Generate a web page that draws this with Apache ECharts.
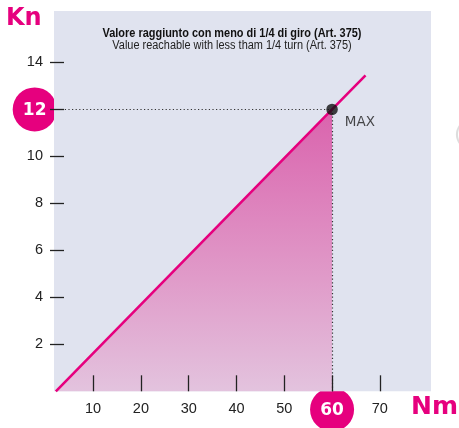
<!DOCTYPE html>
<html>
<head>
<meta charset="utf-8">
<script src="https://cdn.jsdelivr.net/npm/echarts@6/dist/echarts.min.js"></script>
<style>
  html, body { margin: 0; padding: 0; background: #ffffff; }
  #chart { width: 459px; height: 428px; }
</style>
</head>
<body>
<div id="chart"></div>
<script>
// Torque (Nm) vs clamping force (Kn) reachable with less than 1/4 turn
const xTicks = [10, 20, 30, 40, 50, 60, 70];
const yTicks = [2, 4, 6, 8, 10, 12, 14];
const lineX = [2.2, 60, 67];
const lineY = [0, 12, 13.45];
const fillX = [2.2, 60];
const fillY = [0, 12];
const maxPoint = [60, 12];
const titleMain = 'Valore raggiunto con meno di 1/4 di giro (Art. 375)';
const titleSub = 'Value reachable with less tham 1/4 turn (Art. 375)';

// axis extents: the x axis sits just below zero, the y axis line
// sits a little right of zero, just before the shaded panel starts
const X_MIN = 0.98, X_MAX = 80.7, Y_MIN = -0.2, Y_MAX = 16.19, PLOT_X_MIN = 1.82;
const MAGENTA = '#e6007e';
const SANS = '"Liberation Sans", Arial, sans-serif';
const ROUND = '"DejaVu Sans", sans-serif';

const zip = (a, b) => a.map((v, i) => [v, b[i]]);

const chart = echarts.init(document.getElementById('chart'), null, { renderer: 'canvas' });

chart.setOption({
  animation: false,
  grid: { left: 50, right: 28, top: 11, bottom: 32 },
  xAxis: {
    type: 'value', min: X_MIN, max: X_MAX, z: 6,
    axisLine: { show: false },
    splitLine: { show: false },
    axisTick: { show: true, inside: true, length: 16, customValues: xTicks,
                lineStyle: { color: '#222', width: 1.3 } },
    axisLabel: { customValues: xTicks.filter(v => v !== maxPoint[0]), margin: 5,
                 fontSize: 14.5, color: '#222', fontFamily: SANS }
  },
  yAxis: {
    type: 'value', min: Y_MIN, max: Y_MAX, z: 6,
    axisLine: { show: false },
    splitLine: { show: false },
    axisTick: { show: true, inside: true, length: 14, customValues: yTicks,
                lineStyle: { color: '#222', width: 1.3 } },
    axisLabel: { customValues: yTicks.filter(v => v !== maxPoint[1]), margin: 7,
                 fontSize: 14.5, color: '#222', fontFamily: SANS }
  },
  series: [
    {
      // plot background panel
      type: 'line', data: [], z: 0, silent: true,
      markArea: {
        silent: true,
        itemStyle: { color: '#e0e3ef' },
        data: [[{ coord: [PLOT_X_MIN, 0] }, { coord: [X_MAX, Y_MAX] }]]
      }
    },
    {
      // shaded region under the curve up to the max point
      type: 'line', data: zip(fillX, fillY), z: 1, silent: true,
      symbol: 'none', lineStyle: { width: 0 },
      areaStyle: {
        opacity: 1, origin: 0,
        color: new echarts.graphic.LinearGradient(0, 0, 0, 1, [
          { offset: 0, color: '#da63ad' },
          { offset: 0.6, color: '#e09bc9' },
          { offset: 1, color: '#e3c3de' }
        ])
      }
    },
    {
      type: 'line', data: zip(lineX, lineY), z: 7, silent: true,
      symbol: 'none', lineStyle: { color: MAGENTA, width: 2.6 }
    },
    {
      type: 'scatter', data: [maxPoint], z: 8, silent: true,
      symbolSize: 11.5, itemStyle: { color: '#111' },
      label: { show: true, formatter: 'MAX', position: 'right', offset: [2, 13],
               fontSize: 13.5, color: '#1a1a1a', fontFamily: ROUND },
      markLine: {
        silent: true, symbol: 'none', z: 2,
        label: { show: false },
        lineStyle: { color: '#333', width: 1.2, type: [1.2, 2.4] },
        data: [
          [{ coord: [PLOT_X_MIN, maxPoint[1]] }, { coord: maxPoint }],
          [{ coord: maxPoint }, { coord: [maxPoint[0], 0] }]
        ]
      }
    }
  ]
});

// badge circles for the max values, unit labels and headings
const px60 = chart.convertToPixel({ xAxisIndex: 0 }, maxPoint[0]);
const py12 = chart.convertToPixel({ yAxisIndex: 0 }, maxPoint[1]);

function badge(cx, cy, text) {
  return {
    type: 'group', x: cx, y: cy, z: 10,
    children: [
      { type: 'circle', shape: { cx: 0, cy: 0, r: 22 }, style: { fill: MAGENTA } },
      { type: 'text', x: 0, y: 1, style: { text: text, fill: '#fff', fontSize: 17, fontWeight: 'bold',
        fontFamily: ROUND, align: 'center', verticalAlign: 'middle' } }
    ]
  };
}

// condensed heading text
function heading(y, text, weight, color) {
  return {
    type: 'text', x: 232, y: y, z: 10, scaleX: 0.875,
    style: { text: text, fill: color, fontSize: 12.5, fontWeight: weight,
      fontFamily: SANS, align: 'center', verticalAlign: 'middle' }
  };
}

chart.setOption({
  graphic: [
    badge(34.7, py12, String(maxPoint[1])),
    badge(px60, 409.5, String(maxPoint[0])),
    { type: 'text', x: 6, y: 19, z: 10, style: { text: 'Kn', fill: MAGENTA, fontSize: 24, fontWeight: 'bold',
      fontFamily: ROUND, align: 'left', verticalAlign: 'middle' } },
    { type: 'text', x: 411, y: 407, z: 10, style: { text: 'Nm', fill: MAGENTA, fontSize: 25, fontWeight: 'bold',
      fontFamily: ROUND, align: 'left', verticalAlign: 'middle' } },
    heading(34, titleMain, 'bold', '#111'),
    heading(45.5, titleSub, 'normal', '#222'),
    { type: 'text', x: 454, y: 135, z: 10, style: { text: '(', fill: '#aaa', fontSize: 22, opacity: 0.4,
      fontFamily: ROUND, align: 'left', verticalAlign: 'middle' } }
  ]
});
</script>
</body>
</html>
